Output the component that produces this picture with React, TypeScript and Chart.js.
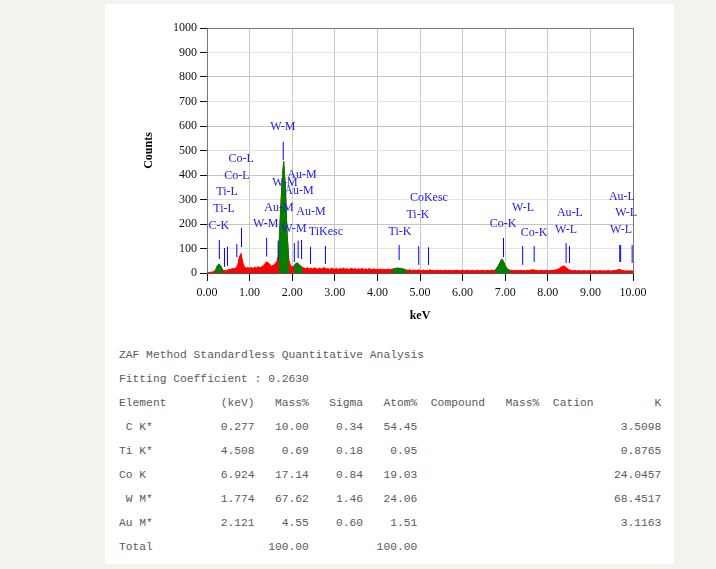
import React, { useEffect, useRef } from "react";
import { Chart, registerables } from "chart.js";

Chart.register(...registerables);

// ---- spectrum (counts per 0.04 keV channel, 0.00 .. 10.00 keV) ----
const STEP_KEV = 0.04;
const counts: number[] = [
  1, 2, 3, 4, 6, 12, 28, 37, 30, 14, 9, 10, 12, 14, 15, 18, 17, 21, 32, 66, 80, 42, 24, 20, 22,
  19, 23, 18, 24, 21, 26, 22, 25, 30, 38, 46, 42, 34, 28, 32, 38, 48, 70, 225, 365, 455, 350, 160, 55, 30,
  26, 28, 38, 41, 34, 28, 23, 20, 18, 22, 17, 20, 16, 21, 18, 15, 20, 16, 19, 22, 16, 18, 14, 19, 17,
  15, 19, 14, 18, 16, 20, 15, 18, 14, 17, 19, 15, 18, 14, 17, 15, 19, 14, 17, 13, 18, 15, 14, 17, 14,
  15, 13, 16, 14, 15, 13, 16, 14, 15, 16, 18, 19, 20, 19, 18, 16, 15, 12, 11, 13, 10, 12, 11, 10, 13,
  11, 9, 12, 9, 11, 10, 13, 9, 11, 9, 12, 10, 11, 9, 10, 12, 9, 11, 10, 9, 11, 10, 12, 9, 10,
  11, 9, 10, 12, 9, 10, 11, 9, 10, 12, 9, 10, 11, 9, 10, 11, 9, 12, 10, 12, 19, 30, 44, 57, 47,
  30, 19, 12, 11, 10, 9, 11, 9, 10, 11, 9, 10, 9, 11, 10, 12, 13, 12, 11, 10, 9, 11, 10, 9, 11,
  10, 9, 11, 10, 12, 13, 15, 20, 25, 29, 27, 21, 14, 12, 10, 9, 11, 8, 10, 9, 8, 10, 9, 8, 10,
  9, 8, 10, 9, 8, 9, 10, 8, 9, 8, 10, 9, 8, 9, 10, 11, 13, 15, 12, 10, 9, 8, 9, 8, 9,
  8,
];

// identified element regions (green), keV
const roiStart = [0.2, 1.68, 2.04, 4.36, 6.76];
const roiEnd = [0.36, 1.92, 2.24, 4.68, 7.12];

// KLM marker lines: energy (keV), lower and upper count
const markerKeV = [0.29, 0.41, 0.48, 0.7, 0.81, 1.4, 1.67, 1.79, 2.05, 2.14, 2.22, 2.43, 2.78, 4.51, 4.97, 5.2, 6.96, 7.41, 7.68, 8.43, 8.51, 9.69, 9.71, 9.98];
const markerLow = [57, 25, 29, 65, 106, 67, 53, 461, 45, 60, 57, 37, 37, 53, 33, 33, 65, 33, 45, 41, 41, 45, 45, 41];
const markerHigh = [135, 102, 107, 118, 184, 144, 132, 536, 122, 132, 135, 107, 110, 114, 110, 105, 143, 110, 110, 122, 110, 114, 114, 114];

// marker labels: text, energy (keV), count level
const labelText = ["W-M", "Co-L", "Co-L", "Ti-L", "Ti-L", "C-K", "Au-M", "W-M", "Au-M", "Au-M", "Au-M", "W-M", "W-M", "TiKesc", "CoKesc", "Ti-K", "Ti-K", "Co-K", "W-L", "Co-K", "Au-L", "W-L", "Au-L", "W-L", "W-L"];
const labelKeV = [1.78, 0.8, 0.7, 0.47, 0.4, 0.28, 2.23, 1.83, 2.16, 1.69, 2.44, 1.38, 2.04, 2.79, 5.21, 4.95, 4.53, 6.95, 7.42, 7.68, 8.52, 8.43, 9.74, 9.84, 9.72];
const labelCount = [596, 465, 396, 331, 261, 192, 400, 367, 335, 265, 249, 200, 180, 167, 306, 237, 167, 200, 265, 163, 245, 176, 310, 245, 176];

// ---- quantitative table ----
const tableTitle = "ZAF Method Standardless Quantitative Analysis";
const fittingLine = "Fitting Coefficient : 0.2630";
const elements = [" C K*", "Ti K*", "Co K", " W M*", "Au M*"];
const lineKeV = [0.277, 4.508, 6.924, 1.774, 2.121];
const massPct = [10.0, 0.69, 17.14, 67.62, 4.55];
const sigma = [0.34, 0.18, 0.84, 1.46, 0.6];
const atomPct = [54.45, 0.95, 19.03, 24.06, 1.51];
const kValue = [3.5098, 0.8765, 24.0457, 68.4517, 3.1163];
const massTotal = 100.0;
const atomTotal = 100.0;

const SERIF = "'Liberation Serif', 'Times New Roman', serif";

function put(line: string, text: string, col: number) {
  return line.padEnd(col) + text;
}
function putR(line: string, text: string, endCol: number) {
  return put(line, text, endCol - text.length);
}

function buildTable(): string {
  const lines: string[] = [tableTitle, fittingLine];
  let h = "";
  h = put(h, "Element", 0);
  h = put(h, "(keV)", 15);
  h = put(h, "Mass%", 23);
  h = put(h, "Sigma", 31);
  h = put(h, "Atom%", 39);
  h = put(h, "Compound", 46);
  h = put(h, "Mass%", 57);
  h = put(h, "Cation", 64);
  h = put(h, "K", 79);
  lines.push(h);
  elements.forEach((el, i) => {
    let r = el;
    r = putR(r, lineKeV[i].toFixed(3), 20);
    r = putR(r, massPct[i].toFixed(2), 28);
    r = putR(r, sigma[i].toFixed(2), 36);
    r = putR(r, atomPct[i].toFixed(2), 44);
    r = putR(r, kValue[i].toFixed(4), 80);
    lines.push(r);
  });
  let t = "Total";
  t = putR(t, massTotal.toFixed(2), 28);
  t = putR(t, atomTotal.toFixed(2), 44);
  lines.push(t);
  return lines.join("\n");
}

const overlayPlugin = {
  id: "overlay",
  afterDatasetsDraw(chart: any) {
    const { ctx, chartArea } = chart;
    const xs = chart.scales.x;
    const ys = chart.scales.y;
    ctx.save();
    ctx.strokeStyle = "#0000ff";
    ctx.lineWidth = 1;
    markerKeV.forEach((k, i) => {
      const px = xs.getPixelForValue(k);
      ctx.beginPath();
      ctx.moveTo(px, ys.getPixelForValue(markerLow[i]));
      ctx.lineTo(px, ys.getPixelForValue(markerHigh[i]));
      ctx.stroke();
    });
    ctx.fillStyle = "#2020ee";
    ctx.font = `12px ${SERIF}`;
    ctx.textAlign = "center";
    ctx.textBaseline = "middle";
    labelText.forEach((t, i) => {
      ctx.fillText(t, xs.getPixelForValue(labelKeV[i]), ys.getPixelForValue(labelCount[i]));
    });
    ctx.fillStyle = "#000";
    ctx.font = `bold 12px ${SERIF}`;
    ctx.fillText("keV", (chartArea.left + chartArea.right) / 2, chartArea.bottom + 43);
    ctx.translate(44, (chartArea.top + chartArea.bottom) / 2);
    ctx.rotate(-Math.PI / 2);
    ctx.fillText("Counts", 0, 0);
    ctx.restore();
  },
};

export default function App() {
  const canvasRef = useRef<HTMLCanvasElement | null>(null);

  useEffect(() => {
    const canvas = canvasRef.current;
    if (!canvas) return;
    const inRoi = (k: number) => roiStart.some((s, j) => k >= s - 1e-6 && k <= roiEnd[j] + 1e-6);
    const redPts = counts.map((c, i) => ({ x: i * STEP_KEV, y: c }));
    const greenPts = counts.map((c, i) => ({ x: i * STEP_KEV, y: inRoi(i * STEP_KEV) ? c : null }));

    const chart = new Chart(canvas, {
      type: "line",
      data: {
        datasets: [
          {
            data: greenPts as any,
            borderColor: "#008000",
            backgroundColor: "#008000",
            borderWidth: 1,
            pointRadius: 0,
            fill: "origin",
            spanGaps: false,
            tension: 0,
          },
          {
            data: redPts as any,
            borderColor: "#ff0000",
            backgroundColor: "#ff0000",
            borderWidth: 1,
            pointRadius: 0,
            fill: "origin",
            tension: 0,
          },
        ],
      },
      options: {
        animation: false,
        responsive: false,
        maintainAspectRatio: false,
        layout: { padding: { top: 24, right: 41, left: 0, bottom: 0 } },
        plugins: { legend: { display: false }, tooltip: { enabled: false } },
        scales: {
          x: {
            type: "linear",
            min: 0,
            max: 10,
            afterFit: (s: any) => {
              s.height = 61;
            },
            ticks: {
              stepSize: 1,
              callback: (v: any) => Number(v).toFixed(2),
              color: "#111",
              font: { family: SERIF, size: 12 },
              padding: 5,
              maxRotation: 0,
            },
            grid: {
              color: (c: any) => (c.tick && (c.tick.value === 10 || c.tick.value === 0) ? "#777" : "#c8c8c8"),
              tickColor: "#111",
              tickLength: 8,
            },
            border: { display: true, color: "#555" },
          },
          y: {
            min: 0,
            max: 1000,
            afterFit: (s: any) => {
              s.width = 102;
            },
            ticks: {
              stepSize: 100,
              callback: (v: any) => String(v),
              color: "#111",
              font: { family: SERIF, size: 12 },
              padding: 3,
            },
            grid: {
              color: (c: any) => {
                const v = c.tick ? c.tick.value : 0;
                if (v === 1000) return "#777";
                if (v === 0) return "rgba(0,0,0,0)";
                return v % 200 === 0 ? "#c4c4c4" : "#e2e2e2";
              },
              tickColor: "#111",
              tickLength: 7,
            },
            border: { display: true, color: "#777" },
          },
        },
      },
      plugins: [overlayPlugin],
    });
    return () => chart.destroy();
  }, []);

  return (
    <div style={{ position: "fixed", inset: 0, background: "#f3f3ee" }}>
      <div style={{ position: "absolute", left: 105, top: 4, width: 569, height: 560, background: "#fff" }}>
        <canvas
          ref={canvasRef}
          width={569}
          height={330}
          style={{ position: "absolute", left: 0, top: 0, width: 569, height: 330, display: "block" }}
        />
        <pre
          style={{
            position: "absolute",
            left: 14,
            top: 339,
            margin: 0,
            fontFamily: "'Liberation Mono', 'Courier New', monospace",
            fontSize: "11.3px",
            lineHeight: "24px",
            color: "#5a5a5a",
          }}
        >
          {buildTable()}
        </pre>
      </div>
    </div>
  );
}
